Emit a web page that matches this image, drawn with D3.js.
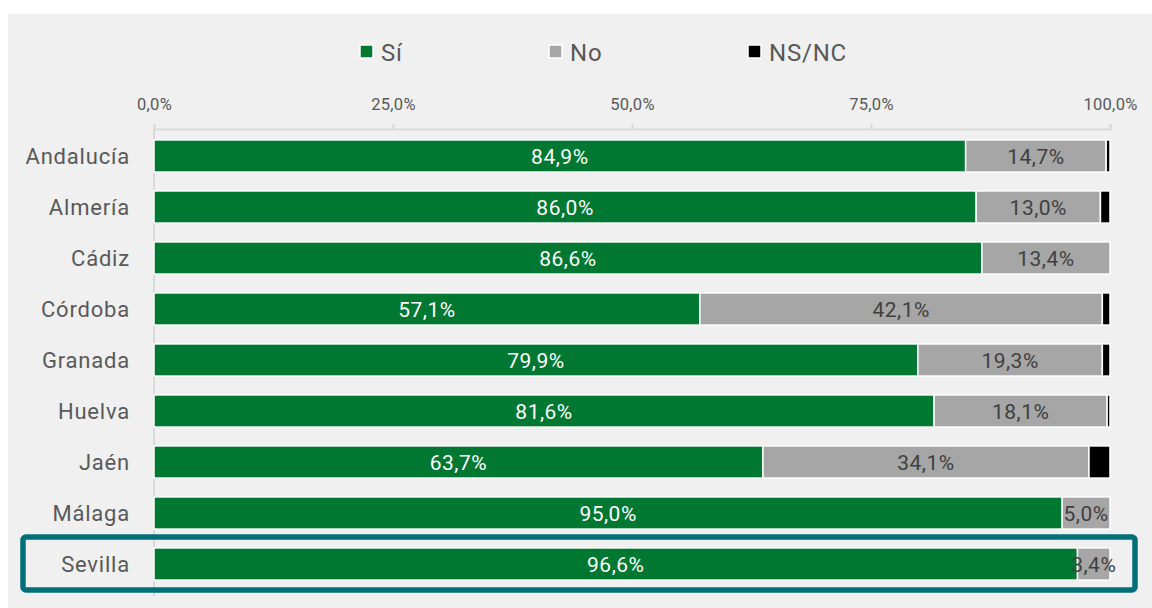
<!DOCTYPE html>
<html><head><meta charset="utf-8">
<script src="https://cdn.jsdelivr.net/npm/d3@7"></script>
<style>
body{margin:0;background:#fff;}
text{font-family:Roboto,"Noto Sans",sans-serif;}
</style></head>
<body><svg id="c" width="1152" height="608"></svg>
<script>
const categories = ["Andalucía","Almería","Cádiz","Córdoba","Granada","Huelva","Jaén","Málaga","Sevilla"];
const seriesNames = ["Sí","No","NS/NC"];
const si   = [84.9, 86.0, 86.6, 57.1, 79.9, 81.6, 63.7, 95.0, 96.6];
const no   = [14.7, 13.0, 13.4, 42.1, 19.3, 18.1, 34.1, 5.0, 3.4];
const nsnc = [0.4, 1.0, 0.0, 0.8, 0.8, 0.3, 2.2, 0.0, 0.0];
const tickValues = [0, 25, 50, 75, 100];
const highlighted = "Sevilla";

const colors = ["#007832", "#a6a6a6", "#000000"];
const svg = d3.select("#c");
const fmt = v => d3.format(".1f")(v).replace(".", ",") + "%";

svg.append("rect").attr("x",8).attr("y",14).attr("width",1144).attr("height",594).attr("fill","#f0f0f0");

const x = d3.scaleLinear().domain([0,100]).range([154,1110]);
const y = d3.scaleBand().domain(categories).range([130.5,589.5]).paddingInner(0.37).paddingOuter(0.185);

// axis (top)
const ax = svg.append("g").attr("transform","translate(0,129)")
  .call(d3.axisTop(x).tickValues(tickValues).tickSize(5).tickFormat(d => d3.format(".1f")(d).replace(".",",")+"%"));
ax.select(".domain").attr("stroke","#d9d9d9").attr("stroke-width",2);
ax.selectAll(".tick line").attr("stroke","#d9d9d9").attr("stroke-width",2);
ax.selectAll(".tick text").attr("fill","#595959").attr("font-size",16.5).attr("letter-spacing",0.3).attr("y",-19);
// y axis line
svg.append("line").attr("x1",x(0)).attr("x2",x(0)).attr("y1",129).attr("y2",596)
  .attr("stroke","#d9d9d9").attr("stroke-width",2);

// stacked data
const rows = categories.map((c,i)=>({cat:c, vals:[si[i],no[i],nsnc[i]]}));
const stack = d3.stack().keys([0,1,2]).value((d,k)=>d.vals[k]);
const series = stack(rows);

series.forEach((s,k)=>{
  const g = svg.append("g");
  g.selectAll("rect").data(s).join("rect")
    .attr("x", d=>x(d[0])).attr("y", d=>y(d.data.cat))
    .attr("width", d=>Math.max(0, x(d[1])-x(d[0])))
    .attr("height", y.bandwidth())
    .attr("fill", colors[k]).attr("stroke","#fff").attr("stroke-width",1.5);
  if (k < 2) {
    g.selectAll("text").data(s).join("text")
      .attr("x", d=>(x(d[0])+x(d[1]))/2)
      .attr("y", d=>y(d.data.cat)+y.bandwidth()/2)
      .attr("dy","0.36em").attr("text-anchor","middle")
      .attr("font-size",21).attr("letter-spacing",0.5)
      .attr("fill", k===0 ? "#ffffff" : "#404040")
      .text(d=>fmt(d.data.vals[k]));
  }
});

// category labels
svg.append("g").selectAll("text").data(categories).join("text")
  .attr("x",130).attr("y",d=>y(d)+y.bandwidth()/2).attr("dy","0.36em")
  .attr("text-anchor","end").attr("font-size",22).attr("letter-spacing",0.8).attr("fill","#595959").text(d=>d);

// highlight box
svg.append("rect").attr("x",23).attr("y",537).attr("width",1112).attr("height",53)
  .attr("rx",3).attr("fill","none").attr("stroke","#006f78").attr("stroke-width",5.5);

// legend
const legX = [360, 549, 748];
const leg = svg.append("g");
seriesNames.forEach((n,i)=>{
  leg.append("rect").attr("x",legX[i]).attr("y",45).attr("width",13).attr("height",13)
    .attr("fill",colors[i]).attr("stroke","#fff").attr("stroke-width",1.5);
  leg.append("text").attr("x",legX[i]+21).attr("y",52).attr("dy","0.36em")
    .attr("font-size",24).attr("letter-spacing",0.8).attr("fill","#595959").text(n);
});
</script></body></html>
